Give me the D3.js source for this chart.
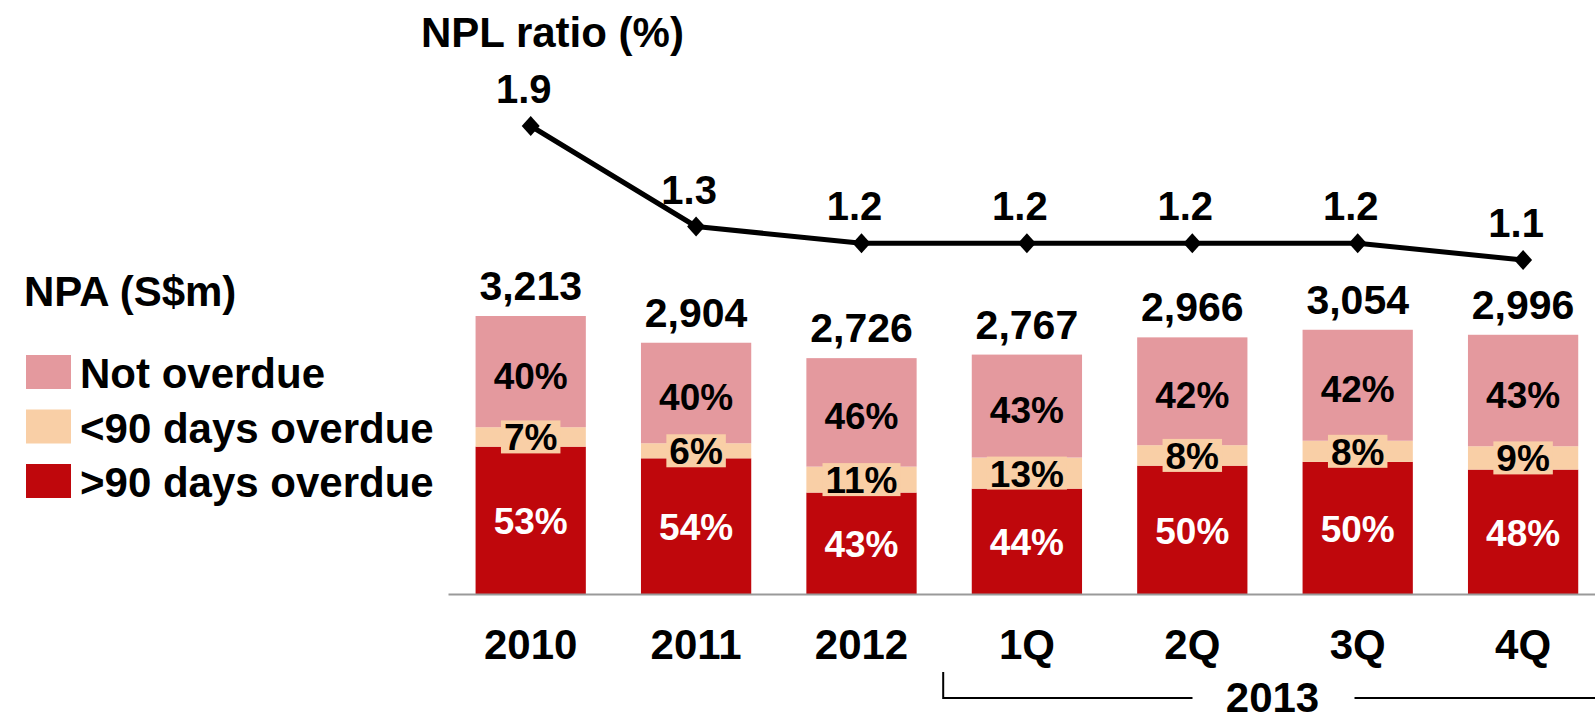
<!DOCTYPE html>
<html>
<head>
<meta charset="utf-8">
<script src="https://cdn.jsdelivr.net/npm/d3@7"></script>
<style>
  html, body { margin: 0; padding: 0; background: #fff; }
  svg { display: block; }
  text { font-family: "Liberation Sans", Arial, sans-serif; font-weight: bold; }
</style>
</head>
<body>
<svg id="chart" width="1595" height="712"></svg>
<script>
// ---- data ----
const categories = ["2010", "2011", "2012", "1Q", "2Q", "3Q", "4Q"];
const groupLabel = "2013";
const groupMembers = ["1Q", "2Q", "3Q", "4Q"];
const npaTotal = [3213, 2904, 2726, 2767, 2966, 3054, 2996];
const pctOver90 = [53, 54, 43, 44, 50, 50, 48];
const pctUnder90 = [7, 6, 11, 13, 8, 8, 9];
const pctNotOverdue = [40, 40, 46, 43, 42, 42, 43];
const nplRatio = [1.9, 1.3, 1.2, 1.2, 1.2, 1.2, 1.1];
const seriesNames = ["Not overdue", "<90 days overdue", ">90 days overdue"];
const nplTitle = "NPL ratio (%)";
const npaTitle = "NPA (S$m)";

// ---- styles ----
const colors = { notOverdue: "#E4999E", under90: "#F9CFA6", over90: "#BF070C" };
const legendColors = [colors.notOverdue, colors.under90, colors.over90];

const svg = d3.select("#chart");

const rows = categories.map((c, i) => ({
  cat: c,
  total: npaTotal[i],
  over90: npaTotal[i] * pctOver90[i] / 100,
  under90: npaTotal[i] * pctUnder90[i] / 100,
  notOverdue: npaTotal[i] * pctNotOverdue[i] / 100,
  pOver90: pctOver90[i], pUnder90: pctUnder90[i], pNot: pctNotOverdue[i],
  npl: nplRatio[i]
}));

const x = d3.scaleBand().domain(categories).range([448, 1605.8])
  .paddingInner(1 / 3).paddingOuter(1 / 6);
const y = d3.scaleLinear().domain([0, 3213]).range([594, 316]);
const yN = d3.scaleLinear().domain([1.1, 1.9]).range([260, 126]);

const keys = ["over90", "under90", "notOverdue"];
const stacked = d3.stack().keys(keys)(rows);

// bars
svg.append("g").selectAll("g").data(stacked).join("g")
  .attr("fill", d => colors[d.key])
  .selectAll("rect").data(d => d).join("rect")
  .attr("x", d => x(d.data.cat))
  .attr("width", x.bandwidth())
  .attr("y", d => y(d[1]))
  .attr("height", d => y(d[0]) - y(d[1]));

// axis
const axisG = svg.append("g").attr("transform", "translate(0,594)")
  .call(d3.axisBottom(x).tickSize(0).tickSizeOuter(0).tickPadding(0));
axisG.select(".domain").attr("stroke", "#9a9a9a").attr("stroke-width", 2);
axisG.selectAll(".tick text")
  .attr("y", 65).attr("dy", 0)
  .attr("fill", "#000")
  .style("font-size", "42px")
  .style("font-family", "'Liberation Sans', Arial, sans-serif")
  .style("font-weight", "bold");

// segment labels
const segLabels = svg.append("g");
const over = stacked[0], under = stacked[1], notO = stacked[2];
const cx = d => x(d.data.cat) + x.bandwidth() / 2;
const mid = d => (y(d[0]) + y(d[1])) / 2;

segLabels.selectAll("text.red").data(over).join("text")
  .attr("class", "red")
  .attr("x", cx).attr("y", d => mid(d) + 14)
  .attr("text-anchor", "middle").attr("fill", "#fff")
  .style("font-size", "37px")
  .text(d => d.data.pOver90 + "%");

segLabels.selectAll("text.pink").data(notO).join("text")
  .attr("class", "pink")
  .attr("x", cx).attr("y", d => mid(d) + 17)
  .attr("text-anchor", "middle").attr("fill", "#000")
  .style("font-size", "37px")
  .text(d => d.data.pNot + "%");

const peachG = segLabels.selectAll("g.peach").data(under).join("g").attr("class", "peach");
const peachText = peachG.append("text")
  .attr("x", cx).attr("y", d => mid(d) + 13.5)
  .attr("text-anchor", "middle").attr("fill", "#000")
  .style("font-size", "37px")
  .text(d => d.data.pUnder90 + "%");
peachG.each(function (d) {
  const g = d3.select(this);
  const bb = g.select("text").node().getBBox();
  g.insert("rect", "text")
    .attr("x", bb.x - 3).attr("width", bb.width + 6)
    .attr("y", mid(d) - 16.5).attr("height", 33)
    .attr("fill", colors.under90);
});

// totals
svg.append("g").selectAll("text").data(rows).join("text")
  .attr("x", d => x(d.cat) + x.bandwidth() / 2)
  .attr("y", d => y(d.total) - 16)
  .attr("text-anchor", "middle").attr("fill", "#000")
  .style("font-size", "41px")
  .text(d => d3.format(",")(d.total));

// NPL line
const line = d3.line().x(d => x(d.cat) + x.bandwidth() / 2).y(d => yN(d.npl));
svg.append("path").datum(rows)
  .attr("d", line).attr("fill", "none")
  .attr("stroke", "#000").attr("stroke-width", 5).attr("stroke-linejoin", "round");
svg.append("g").selectAll("path").data(rows).join("path")
  .attr("transform", d => `translate(${x(d.cat) + x.bandwidth() / 2},${yN(d.npl)})`)
  .attr("d", "M0,-10L9,0L0,10L-9,0Z")
  .attr("fill", "#000");
svg.append("g").selectAll("text").data(rows).join("text")
  .attr("x", d => x(d.cat) + x.bandwidth() / 2 - 7)
  .attr("y", d => yN(d.npl) - 23)
  .attr("text-anchor", "middle").attr("fill", "#000")
  .style("font-size", "40px")
  .text(d => d3.format(".1f")(d.npl));

// titles
svg.append("text").attr("x", 421).attr("y", 47).style("font-size", "42px").text(nplTitle);
svg.append("text").attr("x", 24).attr("y", 306).style("font-size", "42px").text(npaTitle);

// legend
const leg = svg.append("g").selectAll("g").data(seriesNames).join("g")
  .attr("transform", (d, i) => `translate(26,${355 + i * 54.5})`);
leg.append("rect").attr("width", 45).attr("height", 34).attr("fill", (d, i) => legendColors[i]);
leg.append("text").attr("x", 54).attr("y", 33).style("font-size", "42px").text(d => d);

// group bracket for 2013
const step = x.step();
const gx0 = x(groupMembers[0]) - step * x.paddingInner() / 2 - 1;
const gx1 = x(groupMembers[groupMembers.length - 1]) + x.bandwidth() + step * x.paddingInner() / 2;
const gMid = (gx0 + gx1) / 2;
const by = 698;
const bracket = svg.append("g").attr("stroke", "#000").attr("stroke-width", 2).attr("fill", "none");
bracket.append("path").attr("d", `M${gx0},672V${by}H${gMid - 82}`);
bracket.append("path").attr("d", `M${gMid + 80},${by}H${gx1}V672`);
svg.append("text").attr("x", gMid - 2).attr("y", 712).attr("text-anchor", "middle")
  .style("font-size", "42px").text(groupLabel);
</script>
</body>
</html>
